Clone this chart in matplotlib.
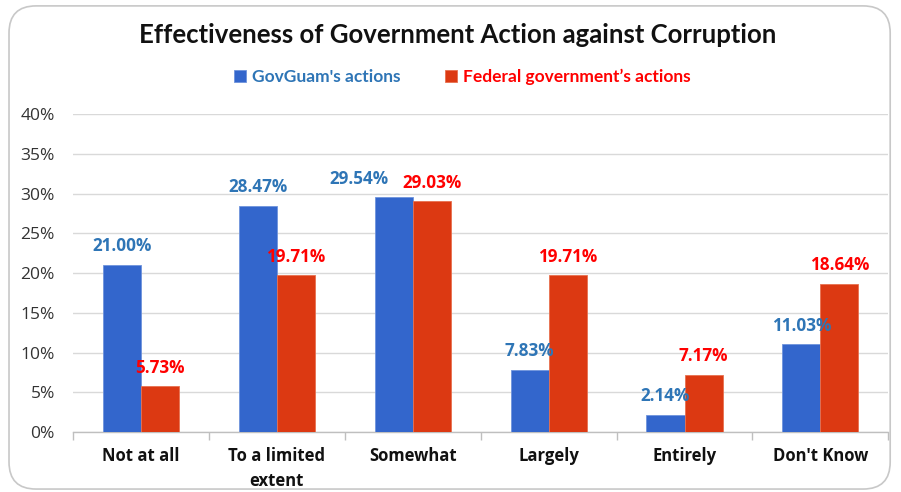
import matplotlib
matplotlib.use("Agg")
import matplotlib.pyplot as plt
from matplotlib.patches import FancyBboxPatch
from matplotlib.ticker import PercentFormatter

categories = ["Not at all", "To a limited\nextent", "Somewhat", "Largely", "Entirely", "Don't Know"]
govguam = [21.00, 28.47, 29.54, 7.83, 2.14, 11.03]
federal = [5.73, 19.71, 29.03, 19.71, 7.17, 18.64]
series_names = ["GovGuam's actions", "Federal government\u2019s actions"]
yticks = [0, 5, 10, 15, 20, 25, 30, 35, 40]

plt.rcParams['font.family'] = ['Lato', 'DejaVu Sans']
LBL = ['Open Sans', 'DejaVu Sans']

BLUE = "#3366CC"
RED = "#DC3912"
BLUE_TXT = "#2E75B6"
RED_TXT = "#FF0000"

fig = plt.figure(figsize=(9.01, 4.92), dpi=100)
border = FancyBboxPatch((0.010, 0.006), 0.978, 0.982, boxstyle="round,pad=0,rounding_size=0.03",
                        transform=fig.transFigure, facecolor="none", edgecolor="#c8c8c8", linewidth=1.2,
                        mutation_aspect=901/492, zorder=-1)
fig.patches.append(border)

ax = fig.add_axes([0.081, 0.122, 0.905, 0.646])
ax.set_facecolor("none")
x = list(range(len(categories)))
w = 0.28
b1 = ax.bar([i - w/2 for i in x], govguam, width=w, color=BLUE, edgecolor="#6f93dc", linewidth=0.6, zorder=3,
            label=series_names[0])
b2 = ax.bar([i + w/2 for i in x], federal, width=w, color=RED, edgecolor="#e8704f", linewidth=0.6, zorder=3,
            label=series_names[1])

for i, v in enumerate(govguam):
    dx = -25 if i == 2 else 0
    ax.annotate(f"{v:.2f}%", (i - w/2, v), xytext=(dx, 7), textcoords="offset points", ha="center", va="bottom",
                color=BLUE_TXT, fontsize=12.3, fontweight="bold", family=LBL)
for i, v in enumerate(federal):
    ax.annotate(f"{v:.2f}%", (i + w/2, v), xytext=(0, 7), textcoords="offset points", ha="center", va="bottom",
                color=RED_TXT, fontsize=12.3, fontweight="bold", family=LBL)

ax.set_xlim(-0.5, len(categories) - 0.5)
ax.set_ylim(0, 40)
ax.set_yticks(yticks)
ax.yaxis.set_major_formatter(PercentFormatter(decimals=0))
ax.yaxis.grid(True, color="#d9d9d9", linewidth=1.0, zorder=0)
ax.tick_params(axis="y", length=0, labelsize=12.5, labelcolor="#333333", pad=13)
for t in ax.get_yticklabels():
    t.set_family(LBL)

ax.set_xticks([i - 0.5 for i in range(len(categories) + 1)])
ax.set_xticklabels([])
ax.set_xticks(x, minor=True)
ax.set_xticklabels(categories, minor=True, fontsize=12, fontweight="bold", color="#111111", family=LBL,
                   linespacing=1.45)
ax.tick_params(axis="x", which="major", length=6, color="#bfbfbf", width=1)
ax.tick_params(axis="x", which="minor", length=0, pad=11)

for s in ["top", "right", "left"]:
    ax.spines[s].set_visible(False)
ax.spines["bottom"].set_color("#bfbfbf")
ax.spines["bottom"].set_linewidth(1)

fig.text(0.508, 0.928, "Effectiveness of Government Action against Corruption", ha="center", va="center",
         fontsize=18.5, fontweight="bold", color="#111111")

leg = fig.legend(handles=[b1, b2], loc="center", bbox_to_anchor=(0.513, 0.843), ncol=2, frameon=False,
                 handlelength=0.7, handleheight=0.7, columnspacing=2.6, handletextpad=0.3,
                 prop={"weight": "bold", "size": 12.5, "family": 'Lato'})
for t, c in zip(leg.get_texts(), [BLUE_TXT, RED_TXT]):
    t.set_color(c)

fig.savefig("out.png", dpi=100)
